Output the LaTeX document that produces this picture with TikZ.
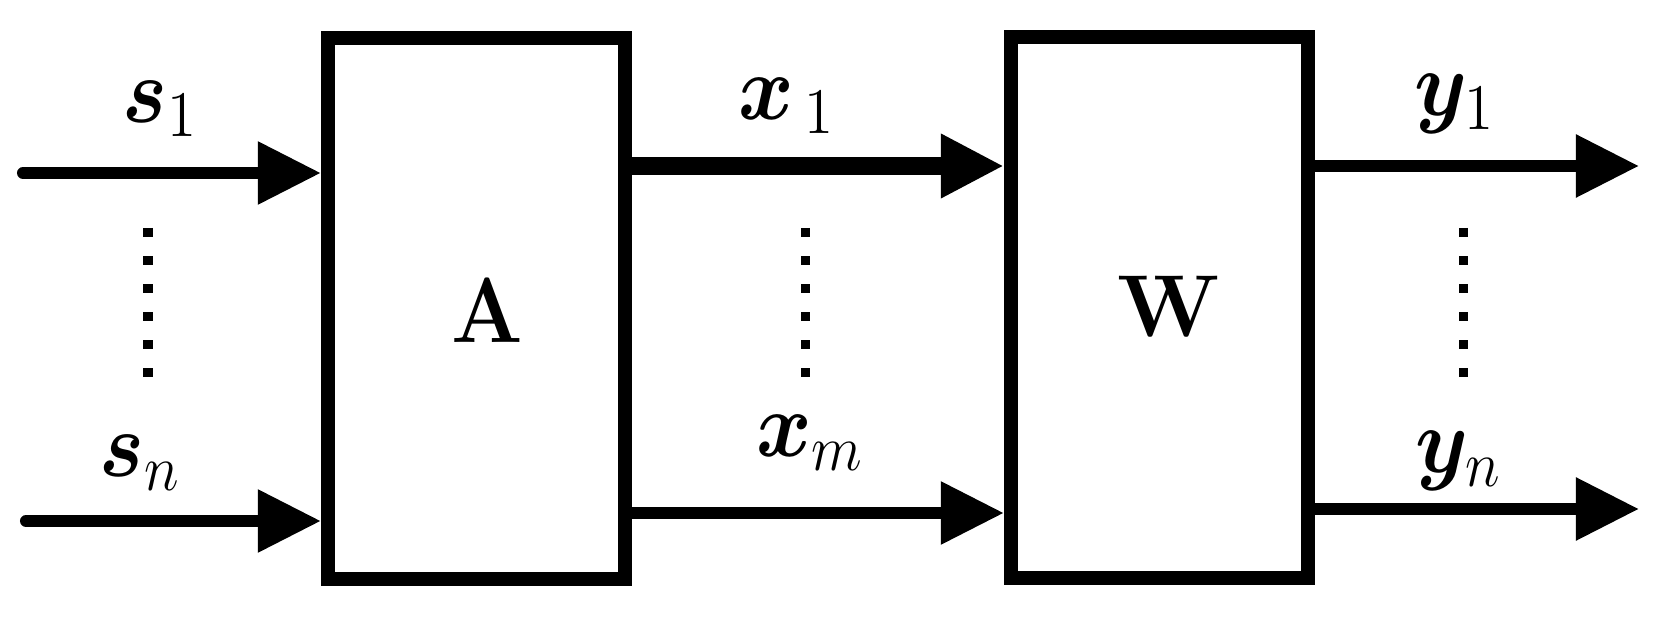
\documentclass[tikz,border=0pt]{standalone}
\usepackage{fix-cm}
\usepackage{amsmath}
\usepackage{bm}
\usepackage{graphicx}
\usetikzlibrary{arrows.meta}
\newcommand{\tallmath}[1]{\scalebox{1}[1.1]{$#1$}}
\begin{document}
\begin{tikzpicture}[x=0.01cm,y=0.01cm,
  blockbox/.style={draw, line width=0.14cm, minimum width=2.97cm, minimum height=5.41cm, inner sep=0pt},
  sig/.style={line width=0.12cm, line cap=round, -{Triangle[length=0.63cm,width=0.6cm]}},
  thicksig/.style={sig, line width=0.18cm},
  lab/.style={inner sep=0pt, font=\fontsize{24}{28}\selectfont},
  biglab/.style={inner sep=0pt, font=\fontsize{25}{30}\selectfont},
  vdots/.style={line width=0.09cm, dash pattern=on 0.09cm off 0.19cm}
]
\useasboundingbox (0,0) rectangle (1660,618);
% blocks
\node[blockbox] (A) at (476.5,309.5) {};
\node[blockbox] (W) at (1159.5,310.5) {};
\node[biglab] (Alab) at (487,307) {\scalebox{0.96}[1.05]{$\mathbf{A}$}};
\node[biglab] (Wlab) at (1169,312) {$\mathbf{W}$};
% free ends
\coordinate (s1in) at (23,445);
\coordinate (snin) at (26,97);
\coordinate (y1out) at (1639,452);
\coordinate (ynout) at (1639,109);
% arrows
\draw[sig] (s1in) -- (s1in -| A.west);
\draw[sig] (snin) -- (snin -| A.west);
\draw[thicksig] (A.east |- 0,452) -- (W.west |- 0,452);
\draw[sig] (A.east |- 0,105) -- (W.west |- 0,105);
\draw[sig] (W.east |- y1out) -- (y1out);
\draw[sig] (W.east |- ynout) -- (ynout);
% dotted continuations
\coordinate (d1t) at (148,390);
\coordinate (d1b) at (148,241);
\coordinate (d2t) at (805,390);
\coordinate (d2b) at (805,241);
\coordinate (d3t) at (1463,390);
\coordinate (d3b) at (1463,241);
\draw[vdots] (d1t) -- (d1b);
\draw[vdots] (d2t) -- (d2b);
\draw[vdots] (d3t) -- (d3b);
% labels
\node[lab] (ls1) at (160,509) {\tallmath{\bm{s}_1}};
\node[lab] (lsn) at (140,155) {\tallmath{\bm{s}_n}};
\node[lab] (lx1) at (787,512) {\tallmath{\bm{x}_{\,1}}};
\node[lab] (lxm) at (810,175) {\tallmath{\bm{x}_m}};
\node[lab] (ly1) at (1455,514) {\tallmath{\bm{y}_1}};
\node[lab] (lyn) at (1459,157) {\tallmath{\bm{y}_n}};
\end{tikzpicture}
\end{document}
